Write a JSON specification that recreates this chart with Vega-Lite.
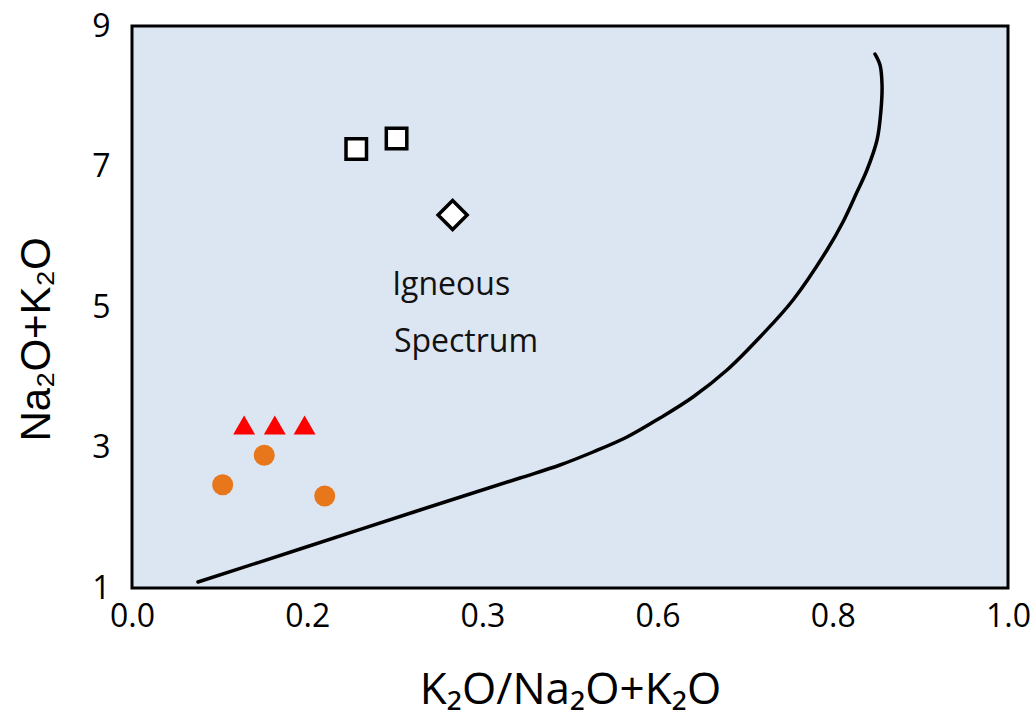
{
  "$schema": "https://vega.github.io/schema/vega-lite/v6.json",
  "width": 876,
  "height": 562,
  "autosize": {"type": "none"},
  "padding": {"left": 132, "top": 26, "right": 25, "bottom": 134},
  "background": "#ffffff",
  "config": {
    "view": {"fill": "#dce6f2", "stroke": "#000000", "strokeWidth": 3},
    "axis": {"labelColor": "#000000", "titleColor": "#000000", "titleFontWeight": "normal", "grid": false, "ticks": false, "domain": false, "labelFlush": false, "labelOverlap": false}
  },
  "datasets": {
    "samples": [
      {"x": 0.1035, "y": 2.47, "set": "A"},
      {"x": 0.151, "y": 2.89, "set": "A"},
      {"x": 0.22, "y": 2.31, "set": "A"},
      {"x": 0.128, "y": 3.32, "set": "B"},
      {"x": 0.163, "y": 3.32, "set": "B"},
      {"x": 0.197, "y": 3.32, "set": "B"},
      {"x": 0.256, "y": 7.25, "set": "C"},
      {"x": 0.302, "y": 7.4, "set": "C"},
      {"x": 0.366, "y": 6.31, "set": "D"}
    ],
    "boundary": [
      {"x": 0.0753, "y": 1.085},
      {"x": 0.1918, "y": 1.555},
      {"x": 0.3288, "y": 2.11},
      {"x": 0.4429, "y": 2.566},
      {"x": 0.4886, "y": 2.751},
      {"x": 0.5263, "y": 2.936},
      {"x": 0.5651, "y": 3.149},
      {"x": 0.6027, "y": 3.42},
      {"x": 0.6404, "y": 3.719},
      {"x": 0.6792, "y": 4.103},
      {"x": 0.7169, "y": 4.573},
      {"x": 0.7546, "y": 5.1},
      {"x": 0.7934, "y": 5.811},
      {"x": 0.8116, "y": 6.21},
      {"x": 0.8276, "y": 6.637},
      {"x": 0.839, "y": 6.95},
      {"x": 0.8505, "y": 7.377},
      {"x": 0.855, "y": 7.804},
      {"x": 0.8562, "y": 8.16},
      {"x": 0.8539, "y": 8.445},
      {"x": 0.8482, "y": 8.601}
    ],
    "notes": [
      {"x": 0.297, "y": 5.17, "label": "Igneous"},
      {"x": 0.299, "y": 4.36, "label": "Spectrum"}
    ]
  },
  "encoding": {
    "x": {
      "field": "x",
      "type": "quantitative",
      "scale": {"domain": [0, 1], "nice": false, "zero": false},
      "axis": {
        "values": [0, 0.2, 0.4, 0.6, 0.8, 1],
        "labelExpr": "datum.value == 0.4 ? '0.3' : format(datum.value, '.1f')",
        "labelFont": "Open Sans",
        "labelFontSize": 32,
        "labelPadding": 13,
        "labelDx": -3,
        "title": "K₂O/Na₂O+K₂O",
        "titleFont": "Open Sans",
        "titleFontSize": 44,
        "titleY": 80
      }
    },
    "y": {
      "field": "y",
      "type": "quantitative",
      "scale": {"domain": [1, 9], "nice": false, "zero": false},
      "axis": {
        "values": [1, 3, 5, 7, 9],
        "labelFont": "Open Sans",
        "labelFontSize": 32,
        "labelPadding": 22,
        "title": "Na₂O+K₂O",
        "titleFont": "Liberation Sans",
        "titleFontSize": 42,
        "titleX": -74,
        "titleY": 313
      }
    }
  },
  "layer": [
    {
      "data": {"name": "boundary"},
      "mark": {"type": "line", "interpolate": "catmull-rom", "color": "#000000", "strokeWidth": 3.5, "strokeCap": "round"},
      "encoding": {"order": {"field": "y", "type": "quantitative"}}
    },
    {
      "data": {"name": "samples"},
      "transform": [{"filter": "datum.set == 'A'"}],
      "mark": {"type": "point", "shape": "circle", "filled": true, "fill": "#e8761a", "strokeWidth": 0, "size": 441, "opacity": 1}
    },
    {
      "data": {"name": "samples"},
      "transform": [{"filter": "datum.set == 'B'"}],
      "mark": {"type": "point", "shape": "triangle-up", "filled": true, "fill": "#ff0000", "strokeWidth": 0, "size": 480, "opacity": 1}
    },
    {
      "data": {"name": "samples"},
      "transform": [{"filter": "datum.set == 'C'"}],
      "mark": {"type": "point", "shape": "square", "filled": false, "fill": "#ffffff", "fillOpacity": 1, "stroke": "#000000", "strokeWidth": 3.5, "size": 420, "opacity": 1}
    },
    {
      "data": {"name": "samples"},
      "transform": [{"filter": "datum.set == 'D'"}],
      "mark": {"type": "point", "shape": "diamond", "filled": false, "fill": "#ffffff", "fillOpacity": 1, "stroke": "#000000", "strokeWidth": 3.5, "size": 841, "opacity": 1}
    },
    {
      "data": {"name": "notes"},
      "mark": {"type": "text", "align": "left", "baseline": "alphabetic", "font": "Open Sans", "fontSize": 32, "color": "#111111"},
      "encoding": {"text": {"field": "label", "type": "nominal"}}
    }
  ]
}
